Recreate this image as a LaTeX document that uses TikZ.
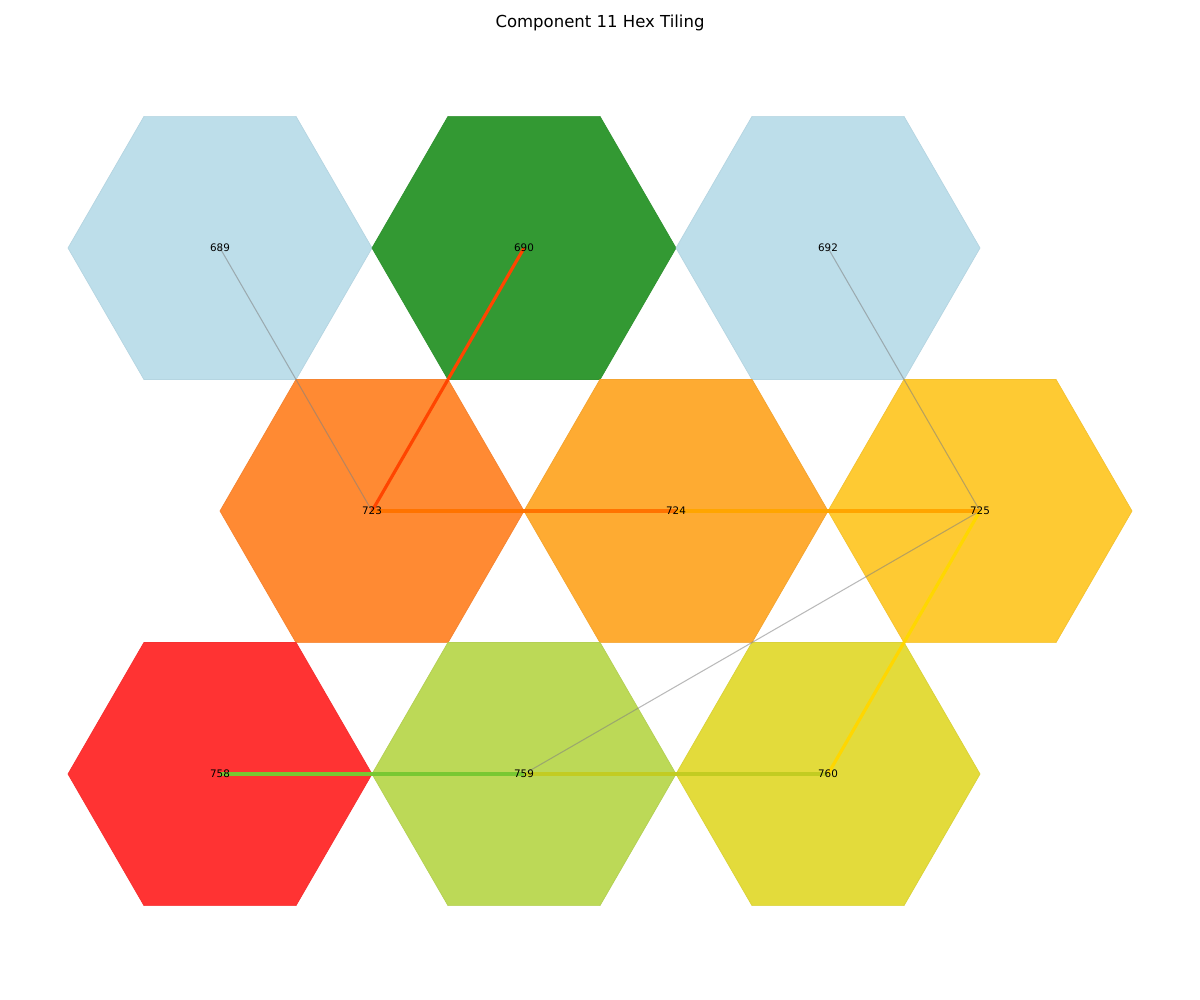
\documentclass[tikz,border=0pt]{standalone}
\usepackage{fontspec}
\setmainfont{DejaVu Sans}
\definecolor{hblue}{HTML}{BDDEEA}
\definecolor{hgreen}{HTML}{339933}
\definecolor{horA}{HTML}{FF8A33}
\definecolor{horB}{HTML}{FEAB32}
\definecolor{horC}{HTML}{FECA33}
\definecolor{hred}{HTML}{FF3333}
\definecolor{hyg}{HTML}{BCD957}
\definecolor{hyel}{HTML}{E3DB3B}
\definecolor{eOR}{HTML}{FF4500}
\definecolor{eDO}{HTML}{FF7300}
\definecolor{eO}{HTML}{FFA500}
\definecolor{eGold}{HTML}{FFD700}
\definecolor{eGreen}{HTML}{78C832}
\definecolor{eYG}{HTML}{C2CC22}
\tikzset{
  hexfill/.style={fill=#1, draw=#1!96!black, line width=0.4pt, line join=miter},
  lightedge/.style={draw=gray, opacity=0.55, line width=0.6pt},
  heavyedge/.style={draw=#1, line width=1.8pt},
  lbl/.style={font=\fontsize{5.9}{7}\selectfont, inner sep=0pt, text=black},
  ttl/.style={font=\fontsize{9.4}{11}\selectfont, inner sep=0pt}
}
\begin{document}
\begin{tikzpicture}[x=0.02cm,y=-0.02cm]
\useasboundingbox (0,0) rectangle (1200,1000);
% hexagons
\foreach \cx/\cy/\col in {220/248/hblue, 524/248/hgreen, 828/248/hblue,
  372/511/horA, 676/511/horB, 980/511/horC,
  220/774/hred, 524/774/hyg, 828/774/hyel}{
  \path[hexfill=\col] (\cx+152,\cy) -- (\cx+76,\cy-131.6) -- (\cx-76,\cy-131.6)
    -- (\cx-152,\cy) -- (\cx-76,\cy+131.6) -- (\cx+76,\cy+131.6) -- cycle;
}
% centres
\coordinate (c689) at (220,248);
\coordinate (c690) at (524,248);
\coordinate (c692) at (828,248);
\coordinate (c723) at (372,511);
\coordinate (c724) at (676,511);
\coordinate (c725) at (980,511);
\coordinate (c758) at (220,774);
\coordinate (c759) at (524,774);
\coordinate (c760) at (828,774);
% edges
\draw[lightedge] (c689) -- (c723);
\draw[lightedge] (c692) -- (c725);
\draw[lightedge] (c725) -- (c759);
\draw[heavyedge=eOR] (c690) -- (c723);
\draw[heavyedge=eDO] (c723) -- (c724);
\draw[heavyedge=eO] (c724) -- (c725);
\draw[heavyedge=eGold] (c725) -- (c760);
\draw[heavyedge=eGreen] (c758) -- (c759);
\draw[heavyedge=eYG] (c759) -- (c760);
% labels
\node[lbl] (n689) at (c689) {689};
\node[lbl] (n690) at (c690) {690};
\node[lbl] (n692) at (c692) {692};
\node[lbl] (n723) at (c723) {723};
\node[lbl] (n724) at (c724) {724};
\node[lbl] (n725) at (c725) {725};
\node[lbl] (n758) at (c758) {758};
\node[lbl] (n759) at (c759) {759};
\node[lbl] (n760) at (c760) {760};
\node[ttl] (title) at (600,23) {Component 11 Hex Tiling};
\end{tikzpicture}
\end{document}
